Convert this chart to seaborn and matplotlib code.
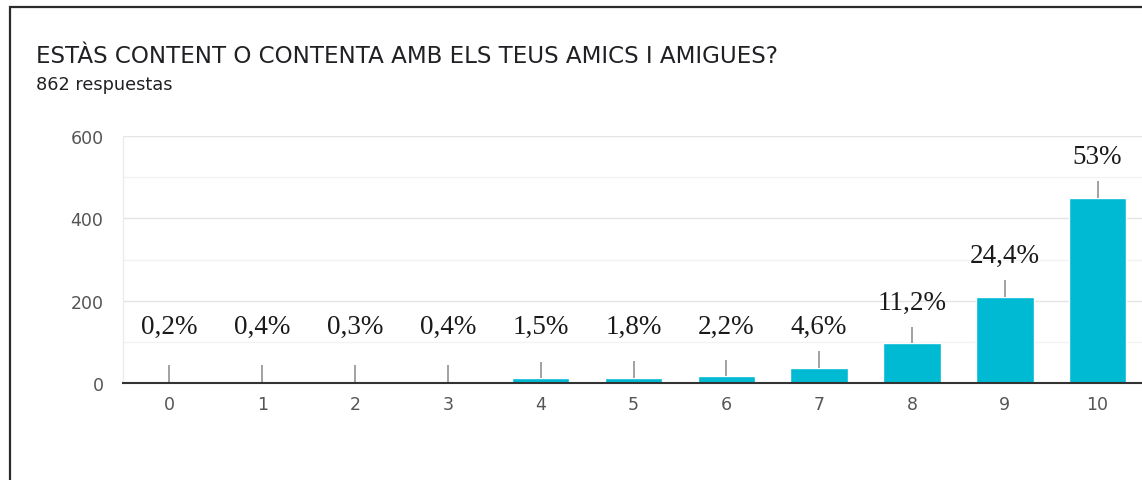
import matplotlib
matplotlib.use("Agg")
import matplotlib.pyplot as plt
from matplotlib.patches import Rectangle
from matplotlib.ticker import MultipleLocator
import seaborn as sns
import pandas as pd

# dades llegides del gràfic
scores = ["0", "1", "2", "3", "4", "5", "6", "7", "8", "9", "10"]
counts = [2, 3, 3, 3, 11, 13, 16, 37, 96, 209, 449]
pct_labels = ["0,2%", "0,4%", "0,3%", "0,4%", "1,5%", "1,8%", "2,2%",
              "4,6%", "11,2%", "24,4%", "53%"]
title = "ESTÀS CONTENT O CONTENTA AMB ELS TEUS AMICS I AMIGUES?"
subtitle = "862 respuestas"

sns.set_theme(style="white")
plt.rcParams["font.family"] = ["DejaVu Sans"]

df = pd.DataFrame({"score": scores, "count": counts})

fig = plt.figure(figsize=(11.42, 4.81), dpi=100)
ax = fig.add_axes([123 / 1142, 97 / 481, 1021 / 1142, 247 / 481])

sns.barplot(
    data=df,
    x="score",
    y="count",
    color="#00B9D3",
    saturation=1,
    width=0.62,
    ax=ax,
    zorder=3,
)

# línies guia i percentatges
for i, v in enumerate(counts):
    ax.vlines(i, v, v + 41, color="#9a9a9a", lw=1.3, zorder=4)
    ax.text(
        i,
        max(v + 100, 138),
        pct_labels[i],
        ha="center",
        va="center",
        family="Liberation Serif",
        fontsize=19.5,
        color="#1a1a1a",
    )

ax.set_xlim(-0.5, 10.5)
ax.set_ylim(0, 600)
ax.yaxis.set_major_locator(MultipleLocator(200))
ax.yaxis.set_minor_locator(MultipleLocator(100))
ax.grid(axis="y", which="major", color="#e4e4e4", lw=1, zorder=0)
ax.grid(axis="y", which="minor", color="#f3f3f3", lw=1, zorder=0)
ax.set_axisbelow(True)

ax.set_xlabel("")
ax.set_ylabel("")
ax.tick_params(axis="y", which="both", length=0, pad=14, labelsize=12.5, labelcolor="#555555")
ax.tick_params(axis="x", length=0, pad=9, labelsize=12.5, labelcolor="#555555")

for side in ["top", "right"]:
    ax.spines[side].set_visible(False)
ax.spines["left"].set_color("#ececec")
ax.spines["left"].set_linewidth(1)
ax.spines["bottom"].set_color("#333333")
ax.spines["bottom"].set_linewidth(1.5)
ax.spines["bottom"].set_zorder(5)

fig.text(36 / 1142, 1 - 57 / 481, title, ha="left", va="center",
         fontsize=16.6, color="#202124")
fig.text(36 / 1142, 1 - 85 / 481, subtitle, ha="left", va="center",
         fontsize=12.8, color="#202124")

# marc de la targeta
fig.add_artist(Rectangle((9.5 / 1142, -0.1), 1.2, 1 - 7.5 / 481 + 0.1,
                         transform=fig.transFigure, fill=False,
                         edgecolor="#2b2b2b", lw=1.6))

fig.savefig("out.png", dpi=100)
